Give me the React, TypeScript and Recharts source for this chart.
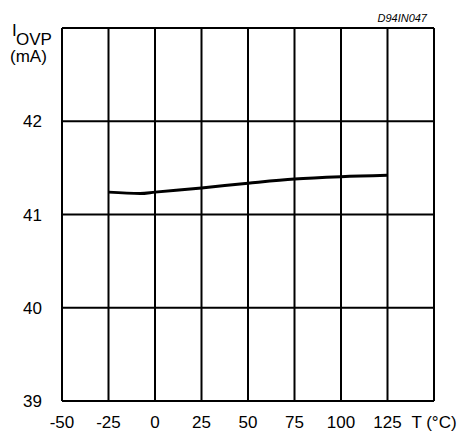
import React from "react";
import { LineChart, Line, XAxis, YAxis, CartesianGrid } from "recharts";

const temps = [-25, -8, 0, 25, 50, 75, 100, 125];
const iovp = [41.24, 41.225, 41.24, 41.285, 41.335, 41.38, 41.405, 41.42];
const xTicks = [-50, -25, 0, 25, 50, 75, 100, 125, 150];
const yTicks = [39, 40, 41, 42, 43];

const data = temps.map((t, i) => ({ t, v: iovp[i] }));

const FONT = "'Liberation Sans', Arial, Helvetica, sans-serif";
const FS = 17;

const XTick = (props: any) => {
  const { x, y, payload } = props;
  const label = payload.value === 150 ? "T (°C)" : String(payload.value);
  return (
    <text x={x} y={y} dy="0.71em" textAnchor="middle" fontFamily={FONT} fontSize={FS} fill="#000">
      {label}
    </text>
  );
};

const YTick = (props: any) => {
  const { x, y, payload } = props;
  if (payload.value === 43) {
    return (
      <g fontFamily={FONT} fill="#000">
        <text x={12} y={36} fontSize={FS}>I</text>
        <text x={16} y={45} fontSize={FS}>OVP</text>
        <text x={10} y={62} fontSize={FS}>(mA)</text>
      </g>
    );
  }
  return (
    <text x={x} y={y} dy="0.355em" textAnchor="end" fontFamily={FONT} fontSize={FS} fill="#000">
      {payload.value}
    </text>
  );
};

export default function App() {
  return (
    <div style={{ position: "absolute", left: 0, top: 0, width: 461, height: 445, background: "#fff" }}>
      <LineChart
        width={461}
        height={445}
        data={data}
        margin={{ top: 28, right: 27, bottom: 0, left: 0 }}
      >
        <CartesianGrid stroke="#000" strokeWidth={2} />
        <XAxis
          type="number"
          dataKey="t"
          domain={[-50, 150]}
          ticks={xTicks}
          axisLine={false}
          tickLine={false}
          tickSize={0}
          tickMargin={15}
          height={44}
          interval={0}
          tick={<XTick />}
        />
        <YAxis
          type="number"
          domain={[39, 43]}
          ticks={yTicks}
          axisLine={false}
          tickLine={false}
          tickSize={0}
          tickMargin={20}
          width={62}
          interval={0}
          tick={<YTick />}
        />
        <Line
          type="monotone"
          dataKey="v"
          stroke="#000"
          strokeWidth={3}
          dot={false}
          isAnimationActive={false}
        />
        <text x={427} y={22} textAnchor="end" fontFamily={FONT} fontSize={11} fontStyle="italic" fill="#000">
          D94IN047
        </text>
      </LineChart>
    </div>
  );
}
